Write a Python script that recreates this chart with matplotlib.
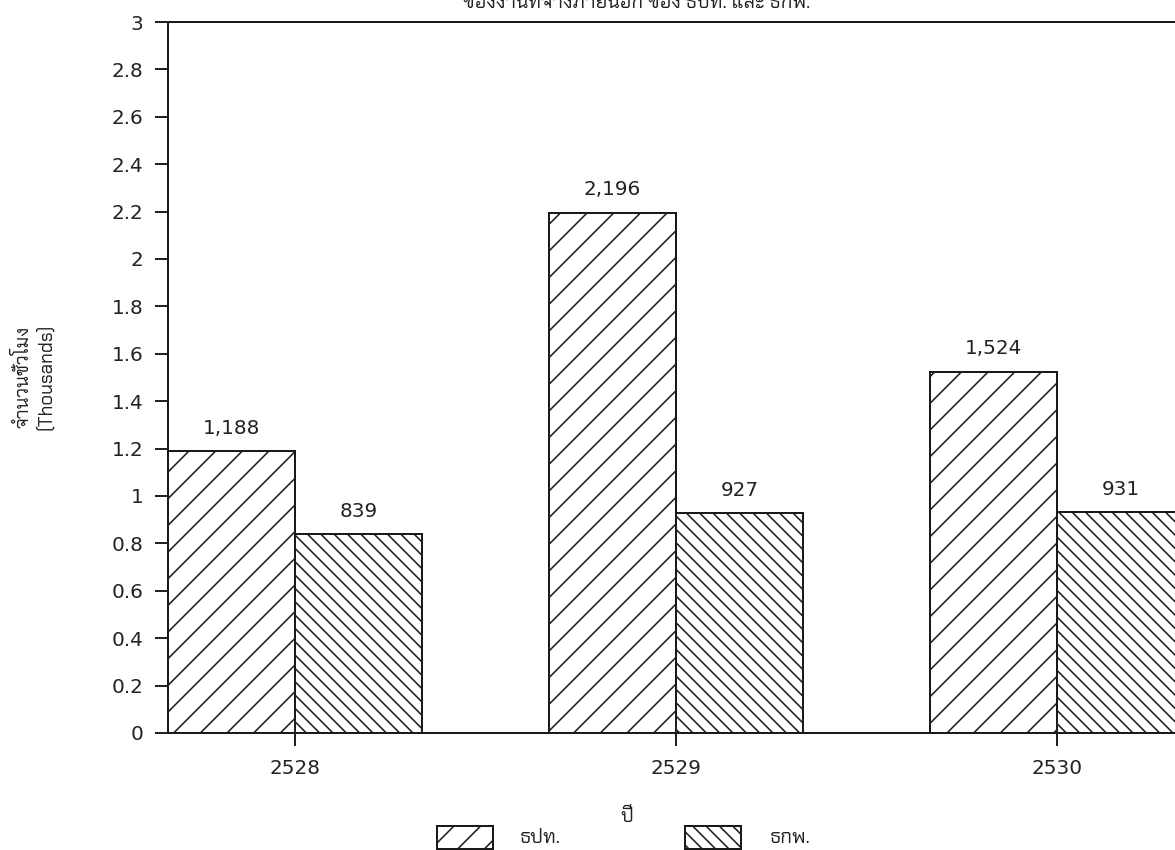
import matplotlib
matplotlib.use("Agg")
import matplotlib.pyplot as plt
from matplotlib.patches import Rectangle
import numpy as np

# hours (thousands) per year for the two agencies
years = ["2528", "2529", "2530"]
bot_hours = [1.188, 2.196, 1.524]
egat_hours = [0.839, 0.927, 0.931]
bot_text = ["1,188", "2,196", "1,524"]
egat_text = ["839", "927", "931"]
series_names = ["ธปท.", "ธกพ."]

thai = ["Chakra Petch", "DejaVu Sans"]
plt.rcParams["font.family"] = ["DejaVu Sans"]
plt.rcParams["hatch.linewidth"] = 0.7
plt.rcParams["hatch.color"] = "#1a1a1a"

HATCH_A = "//"
HATCH_B = "\\\\\\\\"

W, H, DPI = 1175, 850, 160
fig = plt.figure(figsize=(W / DPI, H / DPI), dpi=DPI)
ax = fig.add_axes([168 / W, 1 - 733 / H, 1016 / W, 711 / H])

x = np.arange(len(years))
bw = 1 / 3
b1 = ax.bar(x - bw / 2, bot_hours, bw, color="white", edgecolor="#1a1a1a",
            linewidth=0.9, hatch=HATCH_A)
b2 = ax.bar(x + bw / 2, egat_hours, bw, color="white", edgecolor="#1a1a1a",
            linewidth=0.9, hatch=HATCH_B)

for bars, texts in [(b1, bot_text), (b2, egat_text)]:
    for r, t in zip(bars, texts):
        ax.annotate(t, (r.get_x() + r.get_width() / 2, r.get_height()),
                    xytext=(0, 6), textcoords="offset points",
                    ha="center", va="bottom", fontsize=9, color="#222222")

ax.set_xlim(-bw, len(years) - 1 + bw)
ax.set_ylim(0, 3)
ax.set_yticks(np.arange(0, 3.01, 0.2))
ax.set_yticklabels(["%g" % round(v, 1) for v in np.arange(0, 3.01, 0.2)])
ax.set_xticks(x)
ax.set_xticklabels(years)
ax.tick_params(axis="y", direction="out", length=6, width=0.9, pad=5,
               labelsize=9, colors="#222222")
ax.tick_params(axis="x", direction="inout", length=11.5, width=0.9, pad=6,
               labelsize=9, colors="#222222")
for s in ["left", "bottom", "top"]:
    ax.spines[s].set_linewidth(0.9)
    ax.spines[s].set_color("#1a1a1a")
ax.spines["right"].set_visible(False)

# title (top part runs off the page), axis titles
fig.text(637 / W, 1 - 8 / H, "ของงานที่จ้างภายนอก ของ ธปท. และ ธกพ.",
         ha="center", va="baseline", fontsize=9, family=thai, color="#222222")
fig.text(34 / W, 1 - 377 / H, "จำนวนชั่วโมง\n(Thousands)", rotation=90,
         ha="center", va="center", multialignment="center", linespacing=1.3,
         fontsize=8.5, family=thai, color="#222222")
fig.text(627 / W, 1 - 817 / H, "ปี", ha="center", va="center",
         fontsize=9, family=thai, color="#222222")

# legend boxes along the bottom edge
for bx, hatch, lx, name in [(437, HATCH_A, 520, series_names[0]),
                            (685, HATCH_B, 770, series_names[1])]:
    fig.patches.append(Rectangle((bx / W, 1 - 849 / H), 56 / W, 23 / H,
                                 transform=fig.transFigure, facecolor="white",
                                 edgecolor="#1a1a1a", linewidth=0.9, hatch=hatch))
    fig.text(lx / W, 1 - 838 / H, name, ha="left", va="center",
             fontsize=9, family=thai, color="#222222")

fig.savefig("out.png", dpi=DPI)
